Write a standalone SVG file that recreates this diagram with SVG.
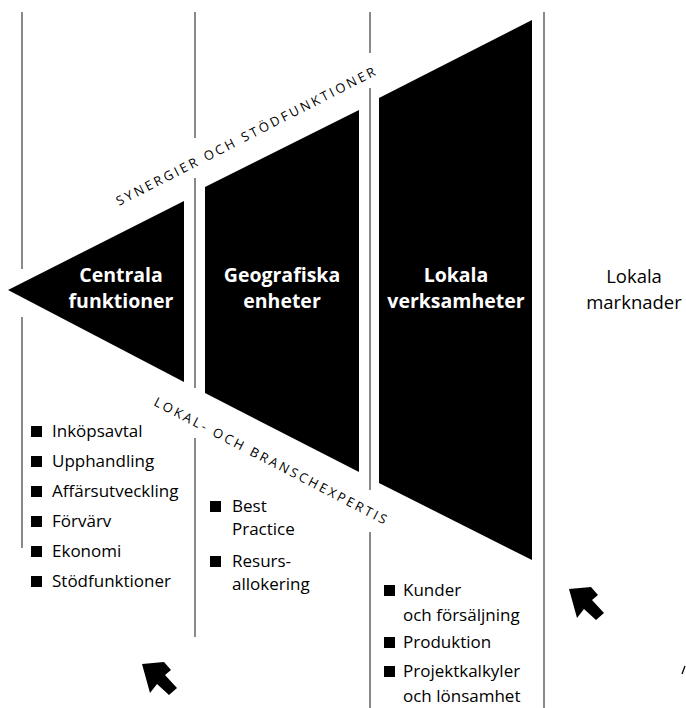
<svg xmlns="http://www.w3.org/2000/svg" width="686" height="708" viewBox="0 0 686 708">
<style>
.vl{stroke:#4a4a4a;stroke-width:1.3;fill:none}
.shape{fill:#000}
.hd{font-family:"Open Sans","Liberation Sans",sans-serif;font-weight:bold;font-size:19.5px;fill:#fff;text-anchor:middle}
.mk{font-family:"Open Sans","Liberation Sans",sans-serif;font-size:18.5px;fill:#000;text-anchor:middle}
.li{font-family:"Open Sans","Liberation Sans",sans-serif;font-size:17px;fill:#000}
.band{font-family:"Open Sans","Liberation Sans",sans-serif;font-size:13px;fill:#000}
.bul{fill:#000}
</style>
<defs>
<path id="arrow" d="M0,0 L22,-2 L29,6 L23,11 L35,24 L27,31 L15,20 L8,29 Z" fill="#000"/>
</defs>
<g id="dividers">
<line class="vl" x1="22" y1="12" x2="22" y2="269"/>
<line class="vl" x1="22" y1="317" x2="22" y2="548"/>
<line class="vl" x1="195" y1="12" x2="195" y2="138"/>
<line class="vl" x1="195" y1="178" x2="195" y2="388"/>
<line class="vl" x1="195" y1="438" x2="195" y2="637"/>
<line class="vl" x1="370" y1="12" x2="370" y2="53"/>
<line class="vl" x1="370" y1="88" x2="370" y2="490"/>
<line class="vl" x1="370" y1="532" x2="370" y2="708"/>
<line class="vl" x1="544" y1="12" x2="544" y2="708"/>
</g>
<g id="band-top">
<text class="band" transform="translate(119,206) rotate(-27)" textLength="289" lengthAdjust="spacing">SYNERGIER OCH STÖDFUNKTIONER</text>
</g>
<g id="band-bottom">
<text class="band" transform="translate(153,405) rotate(27.4)" textLength="260" lengthAdjust="spacing">LOKAL- OCH BRANSCHEXPERTIS</text>
</g>
<g id="centrala">
<polygon class="shape" points="8,290 184,201 184,382"/>
<text class="hd" x="121" y="282">Centrala</text>
<text class="hd" x="121" y="308">funktioner</text>
</g>
<g id="geografiska">
<polygon class="shape" points="205,187 359,110 359,472 205,393"/>
<text class="hd" x="282" y="282">Geografiska</text>
<text class="hd" x="282" y="308">enheter</text>
</g>
<g id="lokala-verksamheter">
<polygon class="shape" points="379,98 532,20 532,560 379,483"/>
<text class="hd" x="456" y="282">Lokala</text>
<text class="hd" x="456" y="308">verksamheter</text>
</g>
<g id="lokala-marknader">
<text class="mk" x="634" y="283">Lokala</text>
<text class="mk" x="634" y="309">marknader</text>
</g>
<g id="list-centrala">
<rect class="bul" x="31" y="426" width="11" height="11"/>
<text class="li" x="52" y="437">Inköpsavtal</text>
<rect class="bul" x="31" y="456" width="11" height="11"/>
<text class="li" x="52" y="467">Upphandling</text>
<rect class="bul" x="31" y="486" width="11" height="11"/>
<text class="li" x="52" y="497">Affärsutveckling</text>
<rect class="bul" x="31" y="516" width="11" height="11"/>
<text class="li" x="52" y="527">Förvärv</text>
<rect class="bul" x="31" y="546" width="11" height="11"/>
<text class="li" x="52" y="557">Ekonomi</text>
<rect class="bul" x="31" y="576" width="11" height="11"/>
<text class="li" x="52" y="587">Stödfunktioner</text>
</g>
<g id="list-geografiska">
<rect class="bul" x="210" y="501" width="11" height="11"/>
<text class="li" x="232" y="512">Best</text>
<text class="li" x="232" y="535">Practice</text>
<rect class="bul" x="210" y="556" width="11" height="11"/>
<text class="li" x="232" y="567">Resurs-</text>
<text class="li" x="232" y="590">allokering</text>
</g>
<g id="list-lokala">
<rect class="bul" x="384" y="585" width="11" height="11"/>
<text class="li" x="403" y="596">Kunder</text>
<text class="li" x="403" y="621">och försäljning</text>
<rect class="bul" x="384" y="637" width="11" height="11"/>
<text class="li" x="403" y="648">Produktion</text>
<rect class="bul" x="384" y="666" width="11" height="11"/>
<text class="li" x="403" y="677">Projektkalkyler</text>
<text class="li" x="403" y="702">och lönsamhet</text>
</g>
<g id="arrows">
<use href="#arrow" transform="translate(142,664)"/>
<use href="#arrow" transform="translate(569,589)"/>
</g>
<line x1="682" y1="674" x2="685" y2="666" stroke="#000" stroke-width="1.3"/>
</svg>
